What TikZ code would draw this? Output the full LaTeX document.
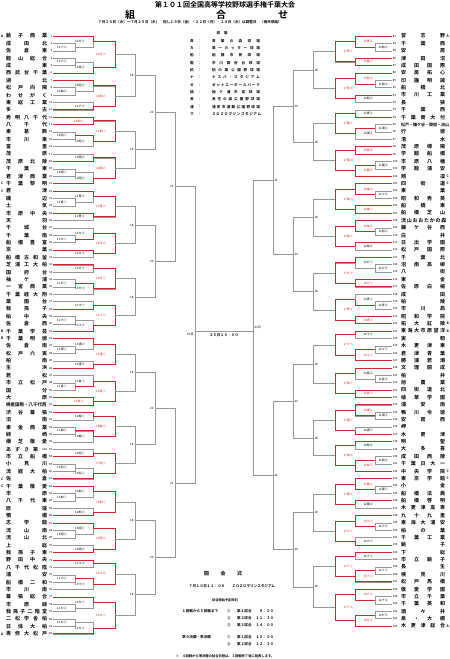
\documentclass[tikz,border=0pt]{standalone}
\usepackage{fontspec}
\setmainfont{Noto Sans CJK JP}[BoldFont={* Bold}]
\usetikzlibrary{calc}
\definecolor{brk}{RGB}{150,150,150}
\definecolor{win}{RGB}{205,40,45}
\tikzset{
  gline/.style={draw=brk, line width=0.45pt},
  rline/.style={draw=win, line width=0.75pt},
  tname/.style={inner sep=0pt, font=\bfseries\fontsize{5}{5}\selectfont},
  tnum/.style={inner sep=0pt, font=\fontsize{2.8}{2.8}\selectfont},
  seed/.style={inner sep=0pt, font=\bfseries\fontsize{3.4}{3.4}\selectfont},
  lab/.style={inner sep=0.3pt, font=\fontsize{3}{3}\selectfont},
  lbl/.style={lab, left=8pt},
  lred/.style={lab, left=9pt, text=win},
  rb1/.style={lab, right=3pt},
  rbl/.style={lab, right=8pt},
  rred/.style={lab, right=8pt, text=win},
  lo/.style={lab, left=1pt},
  ro/.style={lab, right=1pt},
  ttl/.style={inner sep=0pt, font=\bfseries\fontsize{7}{7}\selectfont},
  kumi/.style={inner sep=0pt, font=\bfseries\fontsize{10}{10}\selectfont},
  note/.style={inner sep=0pt, font=\bfseries\fontsize{3.6}{3.6}\selectfont},
}
% spread a name over the column
\newcommand{\spreadL}[1]{\makebox[41pt][s]{#1}}
\newcommand{\spreadR}[1]{\makebox[44pt][s]{#1}}
% one game: entrants, column, result, label style, label, red part
\newcommand{\bout}[7]{%
  \coordinate (#4-u) at (#1 -| #3);
  \coordinate (#4-d) at (#2 -| #3);
  \coordinate (#4) at ($(#4-u)!0.5!(#4-d)$);
  \draw[gline] (#1) -- (#4-u) -- (#4-d) -- (#2);
  \ifcase#7\or
    \draw[rline] (#1) -- (#4-u) -- (#4);\or
    \draw[rline] (#2) -- (#4-d) -- (#4);\or
    \draw[rline] (#1) -- (#4-u) -- (#4-d) -- (#2);\fi
  \node[#5] at (#4) {#6};
}
\begin{document}
\begin{tikzpicture}[x=1pt,y=-1pt]
\fill[white] (0,0) rectangle (450,659);
\useasboundingbox (0,0) rectangle (450,659);
% header
\node[ttl] (title) at (225,5) {第１０１回全国高等学校野球選手権千葉大会};
\node[kumi] (kumi1) at (130,14.5) {組};
\node[kumi] (kumi2) at (221,14.5) {合};
\node[kumi] (kumi3) at (283,14.5) {せ};
\node[note] (dates) at (190,22) {７月１０日（水）～７月２５日（木）\quad 但し１９日（金）・２２日（月）・２４日（水）は調整日\quad （雨天順延）};
% venues
\node[note] (venhead) at (222,33.5) {球\quad 場};
\foreach \i/\ab/\nm in {1/青/{青 葉 の 森 球 場},2/カ/{第 一 カ ッ タ ー 球 場},3/船/{船 橋 市 民 球 場},
  4/国/{市 川 国 府 台 球 場},5/柏/{柏 の 葉 公 園 野 球 場},6/ナ/{ナ ス パ ・ ス タ ジ ア ム},
  7/ゼ/{ゼ ッ ト エ ー ボ ー ル パ ー ク},8/袖/{袖 ケ 浦 市 営 球 場},9/長/{長 生 の 森 公 園 野 球 場},
  10/浦/{浦 安 市 運 動 公 園 野 球 場},11/マ/{Ｚ Ｏ Ｚ Ｏ マ リ ン ス タ ジ ア ム}}{
  \node[note] (vab\i) at (192,{33.5+\i*7.32}) {\ab};
  \node[note] (vco\i) at (200,{33.5+\i*7.32}) {：};
  \node[note] (vnm\i) at (236,{33.5+\i*7.32}) {\makebox[48pt][s]{\nm}};
}
% columns
\coordinate (cL1) at (75,0);  \coordinate (cR1) at (375,0);
\coordinate (cL2) at (93,0);  \coordinate (cR2) at (355,0);
\coordinate (cL3) at (115,0); \coordinate (cR3) at (335,0);
\coordinate (cL4) at (135,0); \coordinate (cR4) at (313,0);
\coordinate (cL5) at (155,0); \coordinate (cR5) at (293,0);
\coordinate (cL6) at (175,0); \coordinate (cR6) at (273,0);
\coordinate (cL7) at (195,0); \coordinate (cR7) at (253,0);
% teams, left
\foreach \k/\nm in {1/{銚 子 商 業},2/{成 田 北},3/{佐 倉 東},4/{館 山 総 合},5/{成 東},
  6/{西 武 台 千 葉},7/{湖 北},8/{松 戸 向 陽},9/{わ せ が く},10/{東 総 工 業},
  11/{多 古},12/{秀 明 八 千 代},13/{八 千 代},14/{東 葛 飾},15/{市 川 東},
  16/{富 里},17/{茂 原},18/{茂 原 北 陵},19/{千 葉 東},20/{君 津 商 業},
  21/{千 葉 黎 明},22/{君 津},23/{磯 辺},24/{土 気},25/{市 原 中 央},
  26/{天 羽},27/{千 城 台},28/{千 葉 南},29/{船 橋 豊 富},30/{京 葉},
  31/{船 橋 古 和 釜},32/{芝 浦 工 大 柏},33/{国 府 台},34/{袖 ケ 浦},35/{一 宮 商 業},
  36/{千 葉 経 大 附},37/{薬 園 台},38/{我 孫 子},39/{柏 中 央},40/{佐 倉 西},
  41/{千 葉 学 芸},42/{千 葉 明 徳},43/{佐 倉 南},44/{松 戸 六 実},45/{柏 南},
  46/{生 浜},47/{若 松},48/{市 立 松 戸},49/{国 分},50/{大 原},
  51/{\fontsize{4.5}{4.5}\selectfont 暁星国際・八千代西},52/{渋 谷 幕 張},53/{沼 南},54/{東 金 商 業},55/{姉 崎},
  56/{横 芝 敬 愛},57/{あ ず さ 第 一},58/{市 立 船 橋},59/{小 見 川},60/{流 経 大 柏},
  61/{佐 倉},62/{千 葉 敬 愛},63/{市 原},64/{八 千 代 東},65/{匝 瑳},
  66/{犢 橋},67/{志 学 館},68/{流 山 南},69/{流 山 北},70/{上 総},
  71/{我 孫 子 東},72/{野 田 中 央},73/{八 千 代 松 陰},74/{浦 安},75/{船 橋 二 和},
  76/{市 川 南},77/{幕 張 総 合},78/{市 原 緑},79/{我 孫 子 二 階 堂},80/{二 松 学 舎 柏},
  81/{日 体 大 柏},82/{専 修 大 松 戸}}{
  \node[tname] (nL\k) at (26.5,{36+(\k-1)*7.38}) {\spreadL{\nm}};
  \node[tnum, anchor=east] (uL\k) at (52.4,{36+(\k-1)*7.38}) {\k};
  \coordinate (L\k) at (53,{36+(\k-1)*7.38});
}
% teams, right
\foreach \k/\nm in {83/{習 志 野},84/{千 葉 商},85/{安 房},86/{津 田 沼},87/{成 田 国 際},
  88/{安 房 拓 心},89/{印 旛 明 誠},90/{船 橋 北},91/{市 川 工 業},92/{長 狭},
  93/{千 葉 西},94/{千 葉 商 大 付},95/{\fontsize{4}{4}\selectfont 松戸・鎌ケ谷・関宿・流山},96/{行 徳},97/{清 水},
  98/{茂 原 樟 陽},99/{学 館 船 橋},100/{市 原 八 幡},101/{学 館 浦 安},102/{翔 凜},
  103/{四 街 道},104/{東 葉},105/{昭 和 秀 英},106/{船 橋 東},107/{船 橋 芝 山},
  108/{流 山 お お た か の 森},109/{鎌 ケ 谷 西},110/{白 井},111/{日 出 学 園},112/{松 戸 国 際},
  113/{千 葉 北},114/{沼 南 高 柳},115/{八 街},116/{東 金},117/{佐 原 白 楊},
  118/{成 田},119/{柏 陵},120/{市 川 昴},121/{昭 和 学 院},122/{拓 大 紅 陵},
  123/{東 海 大 市 原 望 洋},124/{実 籾},125/{木 更 津 東},126/{君 津 青 葉},127/{勝 浦 若 潮},
  128/{文 理 開 成},129/{柏 井},130/{旭 農 業},131/{四 街 道 北},132/{植 草 学 園},
  133/{浦 安 南},134/{鴨 川 令 徳},135/{安 房 西},136/{岬},137/{木 更 津},
  138/{明 聖},139/{大 多 喜},140/{成 田 西 陵},141/{千 葉 日 大 一},142/{中 央 学 院},
  143/{東 京 学 館},144/{小 金},145/{船 橋 法 典},146/{船 橋 啓 明},147/{木 更 津 高 専},
  148/{九 十 九 里},149/{東 海 大 浦 安},150/{柏 の 葉},151/{千 葉 工 業},152/{銚 子},
  153/{下 総},154/{市 立 銚 子},155/{長 生},156/{検 見 川},157/{松 戸 馬 橋},
  158/{敬 愛 学 園},159/{市 立 千 葉},160/{千 葉 英 和},161/{酒 々 井},162/{泉 ・ 大 網},
  163/{木 更 津 総 合}}{
  \node[tname] (nR\k) at (423,{36+(\k-83)*7.375}) {\spreadR{\nm}};
  \node[tnum, anchor=west] (uR\k) at (392.6,{36+(\k-83)*7.375}) {\k};
  \coordinate (R\k) at (392,{36+(\k-83)*7.375});
}
% seeds
\foreach \k/\s in {1/A,21/C,22/C,41/B,42/B,61/C,62/C,82/A}
  \node[seed] (sdL\k) at (2.2,{36+(\k-1)*7.38}) {\s};
\foreach \k/\s in {83/A,102/C,103/C,122/B,123/B,142/C,143/C,163/A}
  \node[seed] (sdR\k) at (447.8,{36+(\k-83)*7.375}) {\s};
% left block 1
\bout{L2}{L3}{cL1}{a2}{lbl}{11ナ②}{0}
\bout{L1}{a2}{cL2}{a1}{lbl}{12ゼ②}{1}
\bout{L4}{L5}{cL1}{a4}{lbl}{11ナ③}{0}
\bout{a4}{L6}{cL2}{a6}{lbl}{13長②}{2}
\bout{a1}{a6}{cL3}{b1}{lred}{14ゼ②}{3}
\bout{L8}{L9}{cL1}{a8}{lbl}{11袖②}{0}
\bout{L7}{a8}{cL2}{a7}{lbl}{13船②}{1}
\bout{L10}{L11}{cL2}{a10}{lbl}{12ナ③}{2}
\bout{a7}{a10}{cL3}{b7}{lred}{16船②}{3}
\bout{b1}{b7}{cL4}{g1}{lo}{18}{0}
% left block 2
\bout{L12}{L13}{cL2}{a12}{lred}{15柏②}{3}
\bout{L14}{L15}{cL1}{a14}{lbl}{11船①}{0}
\bout{a14}{L16}{cL2}{a16}{lbl}{13船③}{1}
\bout{a12}{a16}{cL3}{b12}{lred}{16柏①}{3}
\bout{L17}{L18}{cL2}{a17}{lbl}{13国②}{2}
\bout{L19}{L20}{cL1}{a19}{lbl}{11国①}{0}
\bout{a19}{L21}{cL2}{a21}{lbl}{13国③}{2}
\bout{a17}{a21}{cL3}{b17}{lred}{16国②}{3}
\bout{b12}{b17}{cL4}{g2}{lo}{18}{0}
% left block 3
\bout{L23}{L24}{cL1}{a23}{lbl}{11青①}{0}
\bout{L22}{a23}{cL2}{a22}{lbl}{13青②}{1}
\bout{L25}{L26}{cL2}{a25}{lbl}{12青③}{1}
\bout{a22}{a25}{cL3}{b22}{lred}{14青②}{3}
\bout{L28}{L29}{cL1}{a28}{lbl}{11カ①}{0}
\bout{L27}{a28}{cL2}{a27}{lbl}{13カ②}{2}
\bout{L30}{L31}{cL2}{a30}{lbl}{12カ③}{1}
\bout{a27}{a30}{cL3}{b27}{lred}{16カ②}{3}
\bout{b22}{b27}{cL4}{g3}{lo}{18}{0}
% left block 4
\bout{L32}{L33}{cL2}{a32}{lbl}{13ゼ①}{1}
\bout{L34}{L35}{cL1}{a34}{lbl}{11ゼ①}{0}
\bout{a34}{L36}{cL2}{a36}{lbl}{13ゼ③}{1}
\bout{a32}{a36}{cL3}{b32}{lred}{16ゼ①}{3}
\bout{L37}{L38}{cL2}{a37}{lbl}{13マ①}{2}
\bout{L39}{L40}{cL1}{a39}{lbl}{11マ①}{0}
\bout{a39}{L41}{cL2}{a41}{lbl}{13マ②}{2}
\bout{a37}{a41}{cL3}{b37}{lred}{16マ①}{3}
\bout{b32}{b37}{cL4}{g4}{lo}{18}{0}
% left block 5
\bout{L43}{L44}{cL1}{a43}{lbl}{11浦①}{0}
\bout{L42}{a43}{cL2}{a42}{lbl}{13浦②}{1}
\bout{L45}{L46}{cL2}{a45}{lbl}{13浦③}{2}
\bout{a42}{a45}{cL3}{b42}{lred}{15浦①}{3}
\bout{L48}{L49}{cL1}{a48}{lbl}{11長①}{0}
\bout{L47}{a48}{cL2}{a47}{lbl}{13長①}{2}
\bout{L50}{L51}{cL2}{a50}{lred}{15長②}{3}
\bout{a47}{a50}{cL3}{b47}{lred}{16長①}{3}
\bout{b42}{b47}{cL4}{g5}{lo}{18}{0}
% left block 6
\bout{L52}{L53}{cL2}{a52}{lbl}{12袖①}{1}
\bout{L54}{L55}{cL1}{a54}{lbl}{11袖③}{0}
\bout{a54}{L56}{cL2}{a56}{lbl}{13袖①}{1}
\bout{a52}{a56}{cL3}{b52}{lred}{16袖②}{3}
\bout{L57}{L58}{cL2}{a57}{lbl}{12船①}{2}
\bout{L59}{L60}{cL1}{a59}{lbl}{11船③}{0}
\bout{a59}{L61}{cL2}{a61}{lbl}{13船①}{2}
\bout{a57}{a61}{cL3}{b57}{lred}{17船①}{3}
\bout{b52}{b57}{cL4}{g6}{lo}{18}{0}
% left block 7
\bout{L63}{L64}{cL1}{a63}{lbl}{11柏①}{0}
\bout{L62}{a63}{cL2}{a62}{lbl}{12柏①}{1}
\bout{L65}{L66}{cL2}{a65}{lbl}{12柏③}{2}
\bout{a62}{a65}{cL3}{b62}{lred}{15柏①}{3}
\bout{L68}{L69}{cL1}{a68}{lbl}{11国②}{0}
\bout{L67}{a68}{cL2}{a67}{lbl}{13国①}{1}
\bout{L70}{L71}{cL2}{a70}{lbl}{12国③}{2}
\bout{a67}{a70}{cL3}{b67}{lred}{16国③}{3}
\bout{b62}{b67}{cL4}{g7}{lo}{18}{0}
% left block 8
\bout{L72}{L73}{cL2}{a72}{lbl}{12マ②}{1}
\bout{L74}{L75}{cL1}{a74}{lbl}{11マ③}{0}
\bout{a74}{L76}{cL2}{a76}{lbl}{13マ③}{1}
\bout{a72}{a76}{cL3}{b72}{lred}{16マ②}{3}
\bout{L78}{L79}{cL1}{a78}{lbl}{11カ②}{0}
\bout{L77}{a78}{cL2}{a77}{lbl}{13カ①}{1}
\bout{L80}{L81}{cL1}{a80}{lbl}{11カ③}{0}
\bout{a80}{L82}{cL2}{a82}{lbl}{12カ②}{2}
\bout{a77}{a82}{cL3}{b77}{lred}{16カ①}{3}
\bout{b72}{b77}{cL4}{g8}{lo}{18}{0}
% left upper rounds
\bout{g1}{g2}{cL5}{f1}{lo}{20}{0}
\bout{g3}{g4}{cL5}{f2}{lo}{20}{0}
\bout{g5}{g6}{cL5}{f3}{lo}{20}{0}
\bout{g7}{g8}{cL5}{f4}{lo}{20}{0}
\bout{f1}{f2}{cL6}{q1}{lo}{21}{0}
\bout{f3}{f4}{cL6}{q2}{lo}{21}{0}
\bout{q1}{q2}{cL7}{sL}{lo}{23日}{0}
% right block 1
\bout{R84}{R85}{cR1}{r84}{rb1}{10柏②}{0}
\bout{R83}{r84}{cR2}{r83}{rred}{15青②}{3}
\bout{R86}{R87}{cR2}{r86}{rred}{15国①}{3}
\bout{r83}{r86}{cR3}{s83}{rred}{17青①}{3}
\bout{R89}{R90}{cR1}{r89}{rb1}{11柏③}{0}
\bout{R88}{r89}{cR2}{r88}{rred}{15船②}{3}
\bout{R91}{R92}{cR2}{r91}{rbl}{12船③}{1}
\bout{r88}{r91}{cR3}{s88}{rred}{17船②}{3}
\bout{s83}{s88}{cR4}{h1}{ro}{18}{0}
% right block 2
\bout{R93}{R94}{cR2}{r93}{rbl}{12青②}{2}
\bout{R95}{R96}{cR1}{r95}{rb1}{11浦②}{0}
\bout{r95}{R97}{cR2}{r97}{rbl}{13浦②}{1}
\bout{r93}{r97}{cR3}{s93}{rred}{17国①}{3}
\bout{R98}{R99}{cR2}{r98}{rred}{15長②}{3}
\bout{R100}{R101}{cR1}{r100}{rb1}{11国③}{0}
\bout{r100}{R102}{cR2}{r102}{rred}{15国③}{3}
\bout{r98}{r102}{cR3}{s98}{rred}{17国②}{3}
\bout{s93}{s98}{cR4}{h2}{ro}{18}{0}
% right block 3
\bout{R104}{R105}{cR1}{r104}{rb1}{11マ②}{0}
\bout{R103}{r104}{cR2}{r103}{rred}{15袖②}{3}
\bout{R106}{R107}{cR2}{r106}{rred}{16袖①}{3}
\bout{r103}{r106}{cR3}{s103}{rred}{17袖①}{3}
\bout{R109}{R110}{cR1}{r109}{rb1}{11船②}{0}
\bout{R108}{r109}{cR2}{r108}{rred}{16柏②}{3}
\bout{R111}{R112}{cR2}{r111}{rbl}{12柏③}{1}
\bout{r108}{r111}{cR3}{s108}{rred}{17柏①}{3}
\bout{s103}{s108}{cR4}{h3}{ro}{18}{0}
% right block 4
\bout{R114}{R115}{cR1}{r114}{rb1}{11ゼ③}{0}
\bout{R113}{r114}{cR2}{r113}{rbl}{13ゼ①}{1}
\bout{R116}{R117}{cR2}{r116}{rred}{15ゼ①}{3}
\bout{r113}{r116}{cR3}{s113}{rred}{17ゼ①}{3}
\bout{R119}{R120}{cR1}{r119}{rb1}{11青③}{0}
\bout{R118}{r119}{cR2}{r118}{rbl}{13青①}{2}
\bout{R121}{R122}{cR2}{r121}{rred}{15青③}{3}
\bout{r118}{r121}{cR3}{s118}{rred}{17青②}{3}
\bout{s113}{s118}{cR4}{h4}{ro}{18}{0}
% right block 5
\bout{R123}{R124}{cR2}{r123}{rbl}{12マ①}{1}
\bout{R125}{R126}{cR1}{r125}{rb1}{10マ①}{0}
\bout{r125}{R127}{cR2}{r127}{rred}{15マ①}{3}
\bout{r123}{r127}{cR3}{s123}{rred}{17マ①}{3}
\bout{R129}{R130}{cR1}{r129}{rb1}{11長③}{0}
\bout{R128}{r129}{cR2}{r128}{rbl}{13長③}{1}
\bout{R131}{R132}{cR2}{r131}{rred}{15長①}{3}
\bout{r128}{r131}{cR3}{s128}{rred}{17長①}{3}
\bout{s123}{s128}{cR4}{h5}{ro}{18}{0}
% right block 6
\bout{R134}{R135}{cR1}{r134}{rb1}{11浦③}{0}
\bout{R133}{r134}{cR2}{r133}{rred}{15浦②}{3}
\bout{R136}{R137}{cR2}{r136}{rbl}{12浦①}{2}
\bout{r133}{r136}{cR3}{s133}{rred}{17浦①}{3}
\bout{R138}{R139}{cR2}{r138}{rbl}{12柏②}{1}
\bout{R140}{R141}{cR1}{r140}{rb1}{11柏②}{0}
\bout{r140}{R142}{cR2}{r142}{rred}{16柏①}{3}
\bout{r138}{r142}{cR3}{s138}{rred}{17柏②}{3}
\bout{s133}{s138}{cR4}{h6}{ro}{18}{0}
% right block 7
\bout{R144}{R145}{cR1}{r144}{rb1}{11国①}{0}
\bout{R143}{r144}{cR2}{r143}{rred}{15国②}{3}
\bout{R146}{R147}{cR2}{r146}{rbl}{12国②}{1}
\bout{r143}{r146}{cR3}{s143}{rred}{17国③}{3}
\bout{R149}{R150}{cR1}{r149}{rb1}{11カ③}{0}
\bout{R148}{r149}{cR2}{r148}{rred}{15カ①}{3}
\bout{R151}{R152}{cR2}{r151}{rbl}{12カ①}{2}
\bout{r148}{r151}{cR3}{s148}{rred}{17カ①}{3}
\bout{s143}{s148}{cR4}{h7}{ro}{18}{0}
% right block 8
\bout{R153}{R154}{cR2}{r153}{rbl}{12ナ①}{1}
\bout{R155}{R156}{cR1}{r155}{rb1}{11ナ①}{0}
\bout{r155}{R157}{cR2}{r157}{rred}{15ナ①}{3}
\bout{r153}{r157}{cR3}{s153}{rred}{17ナ①}{3}
\bout{R159}{R160}{cR1}{r159}{rb1}{12ナ②}{0}
\bout{R158}{r159}{cR2}{r158}{rred}{15ナ②}{3}
\bout{R161}{R162}{cR1}{r161}{rb1}{12ゼ③}{0}
\bout{r161}{R163}{cR2}{r163}{rred}{15ゼ②}{3}
\bout{r158}{r163}{cR3}{s158}{rred}{17ナ②}{3}
\bout{s153}{s158}{cR4}{h8}{ro}{18}{0}
% right upper rounds
\bout{h1}{h2}{cR5}{e1}{ro}{20}{0}
\bout{h3}{h4}{cR5}{e2}{ro}{20}{0}
\bout{h5}{h6}{cR5}{e3}{ro}{20}{0}
\bout{h7}{h8}{cR5}{e4}{ro}{20}{0}
\bout{e1}{e2}{cR6}{k1}{ro}{21}{0}
\bout{e3}{e4}{cR6}{k2}{ro}{21}{0}
\bout{k1}{k2}{cR7}{sR}{ro}{23日}{0}
% final
\coordinate (fin) at (224,331);
\draw[gline] (fin -| cL7) -- (fin -| cR7);
\node[note, below=2pt] (fintime) at (224,331) {２５日１０：００};
% opening ceremony and times
\node[note, font=\bfseries\fontsize{5}{5}\selectfont] (open) at (223,574) {\makebox[38pt][s]{開 会 式}};
\node[note] (openat) at (232,586) {７月１０日１１：００\qquad ＺＯＺＯマリンスタジアム};
\node[note, font=\bfseries\fontsize{3.2}{3.2}\selectfont] (times) at (225,600) {試合開始予定時刻};
\node[note, anchor=west] (rnd1) at (182,611) {１回戦から５回戦まで};
\node[note, anchor=west] (rnd2) at (182,637) {準々決勝・準決勝};
\foreach \yy/\c/\g/\t in {611/①/１/９：００,618/②/２/１１：３０,625/③/３/１４：００,637/①/１/１０：００,644/②/２/１２：３０}{
  \node[note] (tc\yy) at (229,\yy) {\c};
  \node[note, anchor=west] (tg\yy) at (237,\yy) {第\g 試合};
  \node[note, anchor=east] (tt\yy) at (274,\yy) {\t};
}
\node[note, font=\bfseries\fontsize{3.3}{3.3}\selectfont] (foot) at (225,656) {※\quad ４回戦から準決勝の試合日程は、３回戦終了後に発表します。};
\end{tikzpicture}
\end{document}
